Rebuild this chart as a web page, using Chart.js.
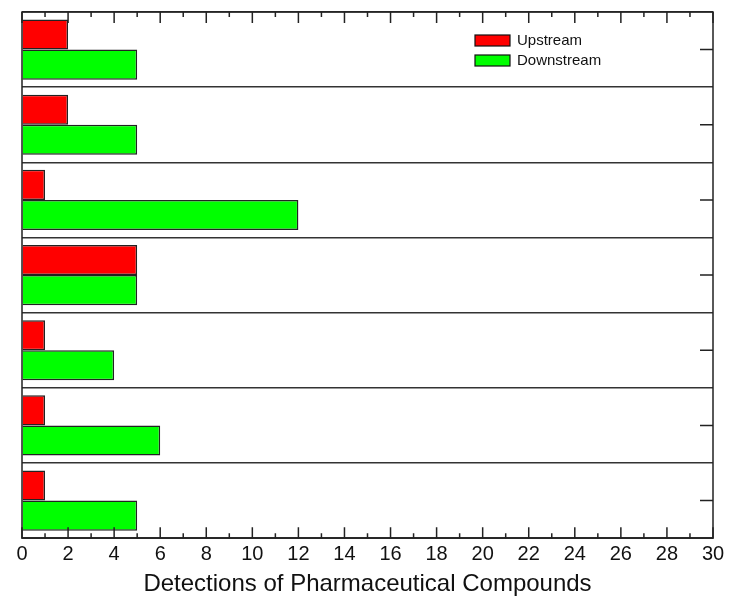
<!DOCTYPE html>
<html>
<head>
<meta charset="utf-8">
<script src="https://cdn.jsdelivr.net/npm/chart.js@4.4.0/dist/chart.umd.min.js"></script>
<style>
  html, body { margin: 0; padding: 0; background: #fff; }
  #wrap { width: 732px; height: 601px; }
</style>
</head>
<body>
<div id="wrap"><canvas id="chart"></canvas></div>
<script>
// sites, top to bottom (unlabelled in the original figure)
const sites = ['1', '2', '3', '4', '5', '6', '7'];
const upstream = [2, 2, 1, 5, 1, 1, 1];
const downstream = [5, 5, 12, 5, 4, 6, 5];
const seriesNames = ['Upstream', 'Downstream'];
const seriesColors = ['#ff0000', '#00ff00'];

// inward tick marks, frame and in-plot legend
const framePlugin = {
    id: 'frame',
    afterDraw(chart) {
        const ctx = chart.ctx;
        const area = chart.chartArea;
        const x = chart.scales.x;
        const y = chart.scales.y;

        ctx.save();
        ctx.strokeStyle = '#222';
        ctx.lineWidth = 1.5;
        ctx.strokeRect(area.left, area.top, area.right - area.left, area.bottom - area.top);

        // x ticks, major every 2, minor every 1, top and bottom
        ctx.beginPath();
        for (let v = x.min; v <= x.max; v++) {
            const px = x.getPixelForValue(v);
            const len = v % 2 === 0 ? 11 : 5;
            ctx.moveTo(px, area.bottom);
            ctx.lineTo(px, area.bottom - len);
            ctx.moveTo(px, area.top);
            ctx.lineTo(px, area.top + len);
        }
        // right ticks at site centres
        sites.forEach((s, i) => {
            const py = y.getPixelForValue(i);
            ctx.moveTo(area.right, py);
            ctx.lineTo(area.right - 13, py);
        });
        ctx.stroke();

        // legend
        ctx.font = '15px "Liberation Sans", Arial, sans-serif';
        ctx.textBaseline = 'middle';
        ctx.lineWidth = 1.2;
        seriesNames.forEach((name, i) => {
            const bx = 475, by = 35 + i * 20;
            ctx.fillStyle = seriesColors[i];
            ctx.fillRect(bx, by, 35, 11);
            ctx.strokeStyle = '#111';
            ctx.strokeRect(bx, by, 35, 11);
            ctx.fillStyle = '#111';
            ctx.fillText(name, bx + 42, by + 5.5);
        });
        ctx.restore();
    }
};

new Chart(document.getElementById('chart'), {
    type: 'bar',
    data: {
        labels: sites,
        datasets: [
            {
                label: seriesNames[0],
                data: upstream,
                backgroundColor: seriesColors[0],
                borderColor: '#222',
                borderWidth: 1.5,
                categoryPercentage: 0.8,
                barPercentage: 1.0
            },
            {
                label: seriesNames[1],
                data: downstream,
                backgroundColor: seriesColors[1],
                borderColor: '#222',
                borderWidth: 1.5,
                categoryPercentage: 0.8,
                barPercentage: 1.0
            }
        ]
    },
    options: {
        indexAxis: 'y',
        responsive: true,
        maintainAspectRatio: false,
        animation: false,
        layout: {
            padding: { left: 22, right: 19, top: 12, bottom: 2 }
        },
        plugins: {
            legend: { display: false },
            tooltip: { enabled: false }
        },
        scales: {
            x: {
                min: 0,
                max: 30,
                ticks: {
                    stepSize: 2,
                    color: '#111',
                    padding: 4,
                    font: { family: '"Liberation Sans", Arial, sans-serif', size: 20 }
                },
                grid: { drawOnChartArea: false, drawTicks: false },
                border: { display: false },
                title: {
                    display: true,
                    text: 'Detections of Pharmaceutical Compounds',
                    color: '#111',
                    padding: { top: 0, bottom: 0 },
                    font: { family: '"Liberation Sans", Arial, sans-serif', size: 24 }
                }
            },
            y: {
                ticks: { display: false },
                grid: {
                    offset: true,
                    drawTicks: false,
                    color: '#333',
                    lineWidth: 1.5
                },
                border: { display: false }
            }
        }
    },
    plugins: [framePlugin]
});
</script>
</body>
</html>
